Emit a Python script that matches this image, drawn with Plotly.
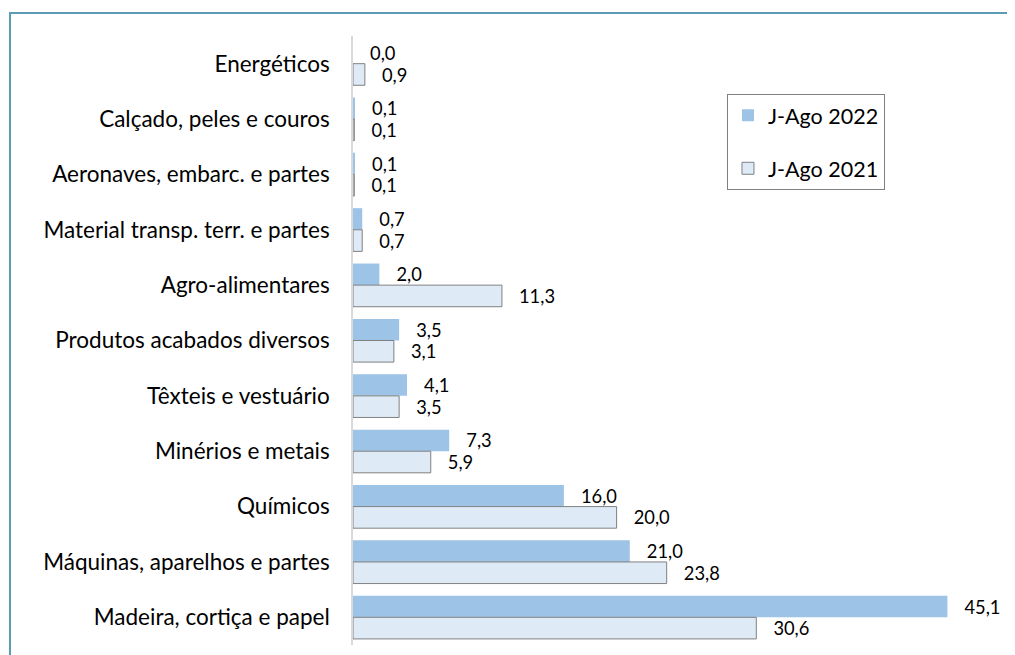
import plotly.graph_objects as go

categories = [
    "Energéticos",
    "Calçado, peles e couros",
    "Aeronaves, embarc. e partes",
    "Material transp. terr. e partes",
    "Agro-alimentares",
    "Produtos acabados diversos",
    "Têxteis e vestuário",
    "Minérios e metais",
    "Químicos",
    "Máquinas, aparelhos e partes",
    "Madeira, cortiça e papel",
]
jago_2022 = [0.0, 0.1, 0.1, 0.7, 2.0, 3.5, 4.1, 7.3, 16.0, 21.0, 45.1]
jago_2021 = [0.9, 0.1, 0.1, 0.7, 11.3, 3.1, 3.5, 5.9, 20.0, 23.8, 30.6]

FONT = "Lato"
pad = "\u00a0\u00a0\u00a0"

fig = go.Figure()
fig.add_trace(go.Bar(
    y=categories, x=jago_2022, orientation="h", name="J-Ago 2022",
    marker=dict(color="#9DC3E6", line=dict(width=0)),
    texttemplate=pad + "%{x:.1f}", textposition="outside", cliponaxis=False,
    textfont=dict(family=FONT, size=19.5, color="#000000"),
    legendgroup="a",
))
fig.add_trace(go.Bar(
    y=categories, x=jago_2021, orientation="h", name="J-Ago 2021",
    marker=dict(color="#DEEBF7", line=dict(color="#808080", width=1)),
    texttemplate=pad + "%{x:.1f}", textposition="outside", cliponaxis=False,
    textfont=dict(family=FONT, size=19.5, color="#000000"),
    legendgroup="b",
))

fig.update_layout(
    width=1015, height=655,
    margin=dict(l=345, r=11, t=28, b=18),
    paper_bgcolor="white", plot_bgcolor="white",
    barmode="group", bargap=0.22, bargroupgap=0,
    separators=",.",
    font=dict(family=FONT, size=22.5, color="#000000"),
    showlegend=True,
    legend=dict(
        x=0.5675, y=0.905, xanchor="left", yanchor="top",
        bordercolor="#808080", borderwidth=1, bgcolor="white",
        font=dict(family=FONT, size=21.5, color="#000000"),
        tracegroupgap=22, traceorder="grouped",
    ),
    xaxis=dict(range=[0, 50], showticklabels=False, showgrid=False,
               zeroline=False, showline=False, fixedrange=True),
    yaxis=dict(autorange="reversed", showgrid=False, zeroline=False,
               showline=True, linecolor="#D9D9D9", linewidth=1.5,
               ticks="", ticklabelstandoff=17,
               tickfont=dict(family=FONT, size=22.5, color="#000000")),
    shapes=[dict(type="rect", xref="paper", yref="paper",
                 x0=-0.5205, x1=1.05, y0=-0.05, y1=1.0378,
                 line=dict(color="#5B9BB5", width=2), fillcolor="rgba(0,0,0,0)",
                 layer="below")],
)

fig.write_html("out.html")
